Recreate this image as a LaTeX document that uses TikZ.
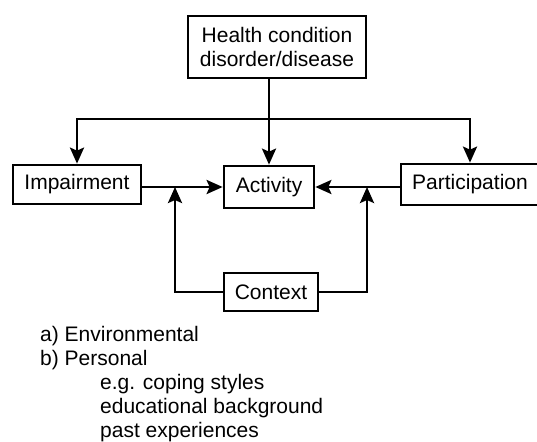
\documentclass[tikz,border=0pt]{standalone}
\usepackage{fontspec}
\setmainfont{Liberation Sans}
\usepackage{tikz}
\usetikzlibrary{arrows.meta}
\tikzstyle{Box}=[draw,line width=2.7pt,inner sep=0pt,
font=\fontsize{21}{24}\selectfont]
\tikzstyle{Edge}=[line width=2.7pt]
\tikzstyle{Arrow}=[Edge,-{Stealth[length=16pt,width=14pt,inset=3pt]}]
\tikzstyle{NodeST}=[font=\fontsize{21}{24}\selectfont,align=left,inner sep=0pt]

\begin{document}
\begin{tikzpicture}[x=1pt,y=-1pt]
        \useasboundingbox(0,0)rectangle(537,441);
        \node[Box,align=center,minimum width=178pt,minimum height=62pt](health)
            at(277,47){Health condition\\disorder/disease};
        \node[Box,minimum width=128pt,minimum height=39pt](impairment)at(77,184.5){Impairment};
        \node[Box,minimum width=90pt,minimum height=42pt](activity)at(269,187){Activity};
        \node[Box,minimum width=138pt,minimum height=41pt](participation)at(470,184.5){Participation};
        \node[Box,minimum width=94pt,minimum height=38pt](context)at(271,292){Context};
        \coordinate(bar)at(270,119);
        \coordinate(jl)at(175,187);
        \coordinate(jr)at(367,187);
        \draw[Arrow](health.south-|activity.north)--(activity.north);
        \draw[Arrow](bar)-|(impairment.north);
        \draw[Arrow](bar)-|(participation.north);
        \draw[Arrow](impairment.east|-activity.west)--(activity.west);
        \draw[Arrow](participation.west|-activity.east)--(activity.east);
        \draw[Arrow](context.west)-|(jl);
        \draw[Arrow](context.east)-|(jr);
        \node[NodeST,anchor=north west](factors)at(40,326){a) Environmental\\
            b) Personal\\
            \hspace*{60pt}e.g. coping styles\\
            \hspace*{60pt}educational background\\
            \hspace*{60pt}past experiences};
    \end{tikzpicture}
\end{document}
